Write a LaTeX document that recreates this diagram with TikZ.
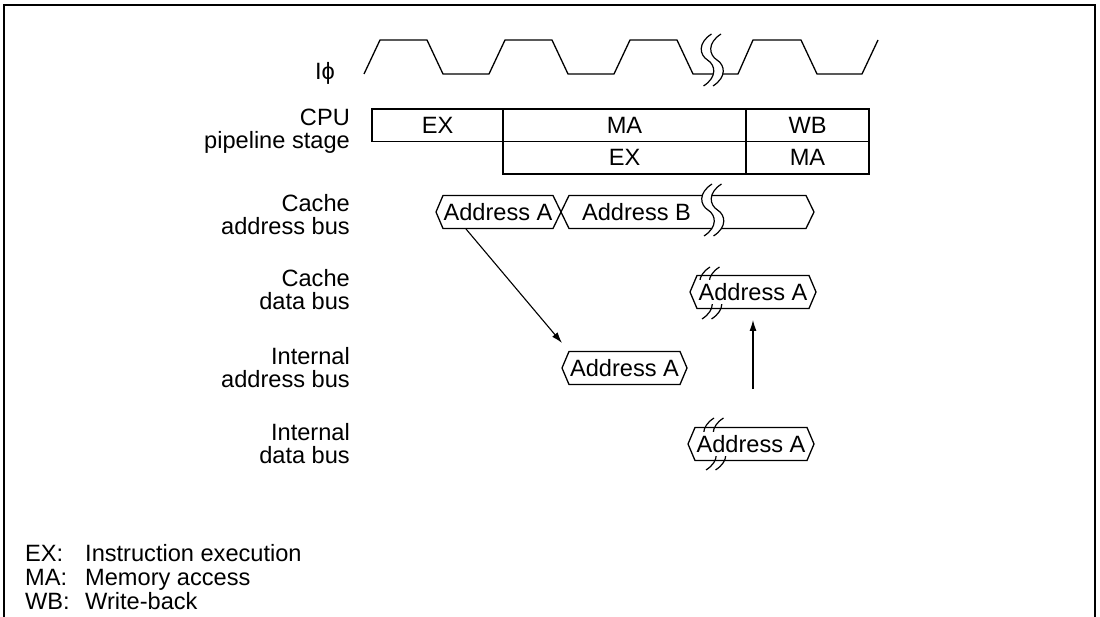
\documentclass[tikz,border=0pt]{standalone}
\usepackage{fontspec}
\setmainfont{Liberation Sans}
\usetikzlibrary{arrows.meta}
\newcommand\brkcurves[2]{%
  \draw[brkline] ({#1+4},{#2-26}) .. controls ({#1-10},{#2-17}) and ({#1-8},{#2-5}) .. ({#1},{#2}) .. controls ({#1+8},{#2+5}) and ({#1+10},{#2+17}) .. ({#1-4},{#2+26});
  \draw[brkline] ({#1+13.5},{#2-26}) .. controls ({#1-0.5},{#2-17}) and ({#1+1.5},{#2-5}) .. ({#1+9.5},{#2}) .. controls ({#1+17.5},{#2+5}) and ({#1+19.5},{#2+17}) .. ({#1+5.5},{#2+26});
}
\newcommand\brkgap[2]{%
  \fill[white] ({#1+4},{#2-26}) .. controls ({#1-10},{#2-17}) and ({#1-8},{#2-5}) .. ({#1},{#2}) .. controls ({#1+8},{#2+5}) and ({#1+10},{#2+17}) .. ({#1-4},{#2+26}) -- ({#1+5.5},{#2+26}) .. controls ({#1+19.5},{#2+17}) and ({#1+17.5},{#2+5}) .. ({#1+9.5},{#2}) .. controls ({#1+1.5},{#2-5}) and ({#1-0.5},{#2-17}) .. ({#1+13.5},{#2-26}) -- cycle;
}
\tikzset{
  every node/.style={font=\fontsize{23.6}{23.6}\selectfont},
  sig/.style={line width=1.3pt, line join=miter},
  hex/.style={draw, line width=1.3pt, line join=miter},
  brkline/.style={line width=1.2pt},
  cell/.style={draw, line width=1.3pt, inner sep=0pt, minimum height=32.5pt},
  bustxt/.style={inner xsep=1pt, inner ysep=3pt},
  lbl/.style={anchor=base east, inner sep=0pt},
  leg/.style={anchor=base west, inner sep=0pt},
  arr/.style={line width=1.1pt, -{Latex[length=11pt,width=7pt]}}
}
\begin{document}
\begin{tikzpicture}[x=1pt,y=-1pt]
\path[use as bounding box, fill=white] (0,0) rectangle (1100,617);
% frame
\draw[line width=2pt] (4,617) -- (4,5) -- (1095,5) -- (1095,617);

% clock
\draw[sig] (364,74) -- (380,40) -- (427,40) -- (443,74) -- (489,74) -- (505,40) -- (552,40) -- (568,74) -- (614,74) -- (630,40) -- (677,40) -- (693,74) -- (738,74) -- (753,40) -- (801,40) -- (817,74) -- (862,74) -- (878,40);
\brkgap{707.5}{60}
\brkcurves{707.5}{60}

% labels
\node[lbl] (l-clk) at (335,80) {Iϕ};
\node[lbl] (l-cpu1) at (350,126) {CPU};
\node[lbl] (l-cpu2) at (350,149) {pipeline stage};
\node[lbl] (l-ca1) at (350,211.7) {Cache};
\node[lbl] (l-ca2) at (350,234.7) {address bus};
\node[lbl] (l-cd1) at (350,287) {Cache};
\node[lbl] (l-cd2) at (350,310) {data bus};
\node[lbl] (l-ia1) at (350,365) {Internal};
\node[lbl] (l-ia2) at (350,388) {address bus};
\node[lbl] (l-id1) at (350,440) {Internal};
\node[lbl] (l-id2) at (350,463) {data bus};

% pipeline table
\node[cell, minimum width=131pt] (ex1) at (437.5,125.25) {EX};
\node[cell, minimum width=243pt] (ma1) at (624.5,125.25) {MA};
\node[cell, minimum width=123pt] (wb1) at (807.5,125.25) {WB};
\node[cell, minimum width=243pt] (ex2) at (624.5,157.75) {EX};
\node[cell, minimum width=123pt] (ma2) at (807.5,157.75) {MA};

% cache address bus
\draw[hex] (436,212) -- (443,195.5) -- (553,195.5) -- (561,212) -- (553,228.5) -- (443,228.5) -- cycle;
\draw[hex] (561,212) -- (569,195.5) -- (806,195.5) -- (814,212) -- (806,228.5) -- (569,228.5) -- cycle;
\node[bustxt] (caA) at (498,212) {Address A};
\node[bustxt] (caB) at (636.5,212) {Address B};
\brkgap{708}{210}
\brkcurves{708}{210}

% cache data bus
\draw[hex] (690,292) -- (697,275.5) -- (809,275.5) -- (816,292) -- (809,308.5) -- (697,308.5) -- cycle;
\brkcurves{706}{293}
\node[bustxt, fill=white] (cdA) at (753,292) {Address A};

% internal address bus
\draw[hex] (562,368) -- (569,351.5) -- (680,351.5) -- (687,368) -- (680,384.5) -- (569,384.5) -- cycle;
\node[bustxt] (iaA) at (624.5,368) {Address A};

% internal data bus
\draw[hex] (688,444) -- (695,427.5) -- (807,427.5) -- (814,444) -- (807,460.5) -- (695,460.5) -- cycle;
\brkcurves{710}{444}
\node[bustxt, fill=white] (idA) at (751,444) {Address A};

% arrows
\coordinate (a1s) at (466,229);
\coordinate (a1e) at (562,343);
\draw[arr] (a1s) -- (a1e);
\coordinate (a2s) at (753,389);
\coordinate (a2e) at (753,320);
\draw[arr] (a2s) -- (a2e);

% legend
\node[leg] (k1) at (25,561) {EX:};
\node[leg] (k1t) at (85,561) {Instruction execution};
\node[leg] (k2) at (25,585) {MA:};
\node[leg] (k2t) at (85,585) {Memory access};
\node[leg] (k3) at (25,609) {WB:};
\node[leg] (k3t) at (85,609) {Write-back};
\end{tikzpicture}
\end{document}
